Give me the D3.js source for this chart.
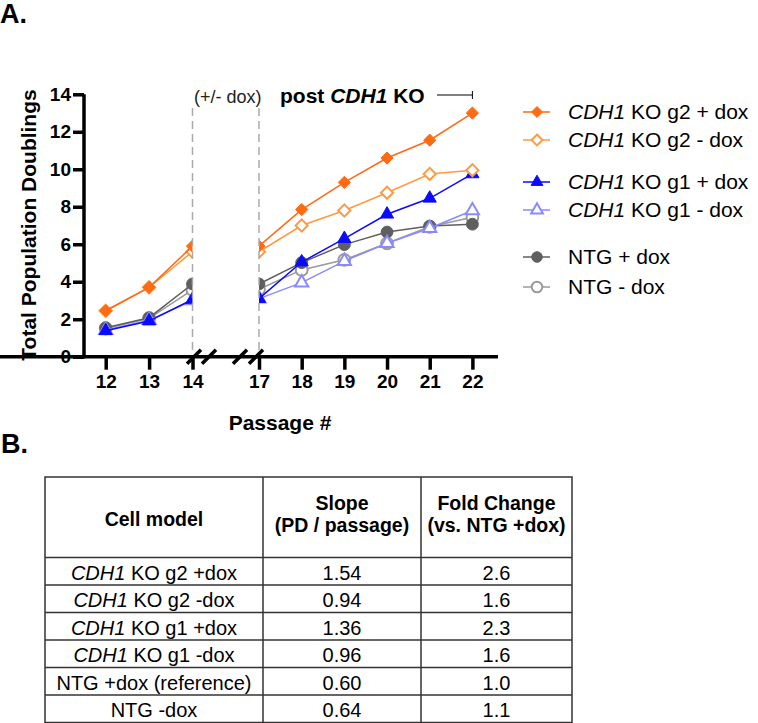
<!DOCTYPE html>
<html>
<head>
<meta charset="utf-8">
<script src="https://cdn.jsdelivr.net/npm/d3@7"></script>
<style>
  body { margin: 0; background: #fff; }
  svg { display: block; font-family: "Liberation Sans", Arial, sans-serif; }
</style>
</head>
<body>
<svg id="chart" width="758" height="723"></svg>
<script>
// passages on the broken x axis
var passages = [12, 13, 14, 17, 18, 19, 20, 21, 22];
var yTicks = [0, 2, 4, 6, 8, 10, 12, 14];

// total population doublings, one value per passage
var g2Plus  = [2.45, 3.7, 5.9, 5.9, 7.85, 9.3, 10.6, 11.55, 13.0];
var g2Minus = [2.45, 3.7, 5.6, 5.6, 7.0, 7.8, 8.75, 9.75, 9.95];
var g1Plus  = [1.38, 1.9, 3.05, 3.1, 5.05, 6.3, 7.6, 8.45, 9.75];
var g1Minus = [1.42, 1.95, 3.0, 3.1, 3.95, 5.1, 6.05, 6.85, 7.8];
var ntgPlus  = [1.55, 2.08, 3.88, 3.88, 5.02, 5.98, 6.65, 6.97, 7.07];
var ntgMinus = [1.5, 2.05, 3.56, 3.6, 4.63, 5.17, 6.05, 6.93, 7.44];

// legend / series styling
var series = [
  {name: "g2 + dox", cdh: true, values: g2Plus, color: "#ff6a13", shape: "diamond", filled: true},
  {name: "g2 - dox", cdh: true, values: g2Minus, color: "#ff9a40", shape: "diamond", filled: false},
  {name: "g1 + dox", cdh: true, values: g1Plus, color: "#0a0aff", shape: "triangle", filled: true},
  {name: "g1 - dox", cdh: true, values: g1Minus, color: "#8a8aff", shape: "triangle", filled: false},
  {name: "NTG + dox", cdh: false, values: ntgPlus, color: "#5f5f5f", shape: "circle", filled: true},
  {name: "NTG - dox", cdh: false, values: ntgMinus, color: "#9a9a9a", shape: "circle", filled: false}
];

// table B
var tableHeader = [["Cell model"], ["Slope", "(PD / passage)"], ["Fold Change", "(vs. NTG +dox)"]];
var tableModels = [
  {cdh: true, rest: " KO g2 +dox"},
  {cdh: true, rest: " KO g2 -dox"},
  {cdh: true, rest: " KO g1 +dox"},
  {cdh: true, rest: " KO g1 -dox"},
  {cdh: false, rest: "NTG +dox (reference)"},
  {cdh: false, rest: "NTG -dox"}
];
var tableSlopes = ["1.54", "0.94", "1.36", "0.96", "0.60", "0.64"];
var tableFold = ["2.6", "1.6", "2.3", "1.6", "1.0", "1.1"];

var svg = d3.select("#chart");

// broken axis: 14 -> 17 squeezed
var x = d3.scaleLinear().domain([11.5, 14, 17, 22.6]).range([84, 192.5, 259, 498]);
var y = d3.scaleLinear().domain([0, 14]).range([356.7, 94.3]);

var symbols = {diamond: d3.symbolDiamond2, triangle: d3.symbolTriangle, circle: d3.symbolCircle};
var sizes = {diamond: 95, triangle: 75, circle: 110};

svg.append("text").attr("x", 0).attr("y", 23)
  .attr("font-size", 27).attr("font-weight", "bold").text("A.");
svg.append("text").attr("x", 1).attr("y", 453)
  .attr("font-size", 27).attr("font-weight", "bold").text("B.");

// data lines and markers
var plot = svg.append("g");
var line = d3.line().x(function(d) { return x(d.p); }).y(function(d) { return y(d.v); });

series.slice().reverse().forEach(function(s) {
  var pts = passages.map(function(p, i) { return {p: p, v: s.values[i]}; });
  var left = pts.filter(function(d) { return d.p <= 14; });
  var right = pts.filter(function(d) { return d.p >= 17; });
  [left, right].forEach(function(seg) {
    plot.append("path").datum(seg)
      .attr("d", line)
      .attr("fill", "none")
      .attr("stroke", s.color)
      .attr("stroke-width", 1.5);
  });
  plot.selectAll(null).data(pts).enter().append("path")
    .attr("transform", function(d) { return "translate(" + x(d.p) + "," + y(d.v) + ")"; })
    .attr("d", d3.symbol().type(symbols[s.shape]).size(sizes[s.shape]))
    .attr("fill", s.filled ? s.color : "#fff")
    .attr("stroke", s.color)
    .attr("stroke-width", s.filled ? 1 : 2);
});

// blank the break region
svg.append("rect").attr("x", x(14)).attr("y", 100)
  .attr("width", x(17) - x(14)).attr("height", 250).attr("fill", "#fff");

[14, 17].forEach(function(p) {
  svg.append("line")
    .attr("x1", x(p)).attr("x2", x(p))
    .attr("y1", 108).attr("y2", 356)
    .attr("stroke", "#aaa").attr("stroke-width", 1.5)
    .attr("stroke-dasharray", "8,5");
});

// axes
var xAxis = svg.append("g").attr("transform", "translate(0," + y(0) + ")")
  .call(d3.axisBottom(x).tickValues(passages).tickSize(13).tickPadding(5).tickSizeOuter(0));
var yAxis = svg.append("g").attr("transform", "translate(" + x(11.5) + ",0)")
  .call(d3.axisLeft(y).tickValues(yTicks).tickSize(11).tickPadding(2).tickSizeOuter(0));

[xAxis, yAxis].forEach(function(a) {
  a.attr("font-size", 19).attr("font-family", "Liberation Sans, Arial, sans-serif");
  a.select(".domain").attr("stroke", "#000").attr("stroke-width", 3.5);
  a.selectAll(".tick line").attr("stroke", "#000").attr("stroke-width", 3.5);
  a.selectAll(".tick text").attr("fill", "#000").attr("font-weight", "bold");
});
yAxis.select(".domain").attr("d", "M0," + y(14) + "V" + (y(0) + 1.5));
xAxis.select(".domain").attr("d", "M-1.5,0H" + x(22.6));

// break slashes on the x axis
[194, 209, 240, 256].forEach(function(cx) {
  svg.append("line")
    .attr("x1", cx - 7).attr("y1", y(0) + 7)
    .attr("x2", cx + 7).attr("y2", y(0) - 7)
    .attr("stroke", "#000").attr("stroke-width", 3.5);
});

// axis titles
svg.append("text")
  .attr("transform", "translate(36,225) rotate(-90)")
  .attr("text-anchor", "middle").attr("font-size", 21).attr("font-weight", "bold")
  .text("Total Population Doublings");
svg.append("text").attr("x", 280).attr("y", 430)
  .attr("text-anchor", "middle").attr("font-size", 21).attr("font-weight", "bold")
  .text("Passage #");

// annotations
svg.append("text").attr("x", (x(14) + x(17)) / 2 + 2).attr("y", 103)
  .attr("text-anchor", "middle").attr("font-size", 18).attr("fill", "#222")
  .text("(+/- dox)");
var post = svg.append("text").attr("x", 280).attr("y", 103)
  .attr("font-size", 21).attr("font-weight", "bold");
post.append("tspan").text("post ");
post.append("tspan").attr("font-style", "italic").text("CDH1");
post.append("tspan").text(" KO");
svg.append("line").attr("x1", 437).attr("x2", x(22)).attr("y1", 95).attr("y2", 95)
  .attr("stroke", "#000").attr("stroke-width", 1);
svg.append("line").attr("x1", x(22)).attr("x2", x(22)).attr("y1", 91).attr("y2", 99)
  .attr("stroke", "#000").attr("stroke-width", 1);

// legend
var legendY = [112, 140, 182, 210, 257, 287];
var legend = svg.append("g");
series.forEach(function(s, i) {
  var g = legend.append("g").attr("transform", "translate(537," + legendY[i] + ")");
  g.append("line").attr("x1", -14).attr("x2", 13).attr("stroke", s.color).attr("stroke-width", 1.5);
  g.append("path")
    .attr("d", d3.symbol().type(symbols[s.shape]).size(sizes[s.shape] * 0.8))
    .attr("fill", s.filled ? s.color : "#fff")
    .attr("stroke", s.color).attr("stroke-width", s.filled ? 1 : 2);
  var t = g.append("text").attr("x", 31).attr("y", 7).attr("font-size", 21);
  if (s.cdh) t.append("tspan").attr("font-style", "italic").text("CDH1");
  t.append("tspan").text(s.cdh ? " KO " + s.name : s.name);
});

// table B
var colX = [45, 263, 421, 572];
var headTop = 477, headBottom = 557.5, rowH = 27.5;
var rowY = d3.range(tableModels.length + 1).map(function(i) { return headBottom + i * rowH; });
var tbl = svg.append("g").attr("stroke", "#333").attr("stroke-width", 1.5);
tbl.append("rect").attr("x", colX[0]).attr("y", headTop)
  .attr("width", colX[3] - colX[0]).attr("height", rowY[rowY.length - 1] - headTop)
  .attr("fill", "none");
[colX[1], colX[2]].forEach(function(cx) {
  tbl.append("line").attr("x1", cx).attr("x2", cx).attr("y1", headTop).attr("y2", rowY[rowY.length - 1]);
});
rowY.slice(0, -1).forEach(function(ry) {
  tbl.append("line").attr("x1", colX[0]).attr("x2", colX[3]).attr("y1", ry).attr("y2", ry);
});

tableHeader.forEach(function(lines, c) {
  var cx = (colX[c] + colX[c + 1]) / 2;
  lines.forEach(function(l, k) {
    var yy = lines.length === 1 ? 526 : 510 + k * 22;
    svg.append("text").attr("x", cx).attr("y", yy)
      .attr("text-anchor", "middle").attr("font-size", 19.5).attr("font-weight", "bold")
      .text(l);
  });
});

tableModels.forEach(function(m, r) {
  var yy = rowY[r] + 22;
  var t = svg.append("text").attr("x", (colX[0] + colX[1]) / 2).attr("y", yy)
    .attr("text-anchor", "middle").attr("font-size", 20);
  if (m.cdh) t.append("tspan").attr("font-style", "italic").text("CDH1");
  t.append("tspan").text(m.rest);
  svg.append("text").attr("x", (colX[1] + colX[2]) / 2).attr("y", yy)
    .attr("text-anchor", "middle").attr("font-size", 20).text(tableSlopes[r]);
  svg.append("text").attr("x", (colX[2] + colX[3]) / 2).attr("y", yy)
    .attr("text-anchor", "middle").attr("font-size", 20).text(tableFold[r]);
});
</script>
</body>
</html>
